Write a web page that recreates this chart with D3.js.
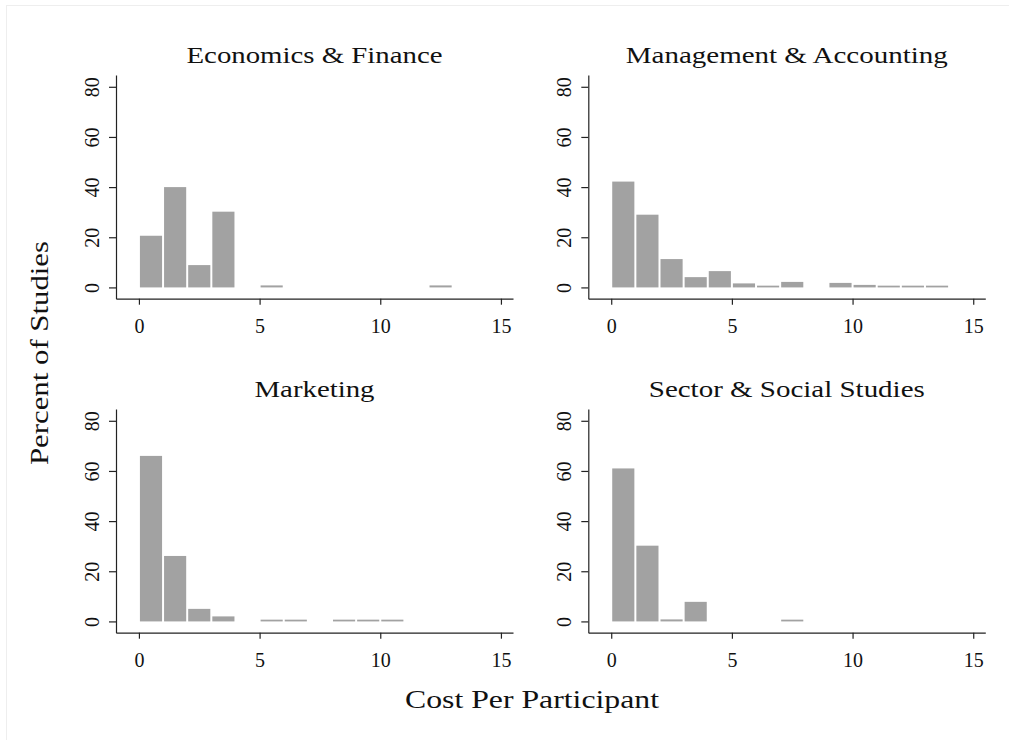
<!DOCTYPE html>
<html>
	<head>
		<meta charset="utf-8">
		<title></title>
		<style type="text/css">
			body { margin: 0; background: #fff; }
			svg text { font-family: "Liberation Serif", "Times New Roman", Tinos, serif; fill: #111; }
		</style>
		<script src="https://cdn.jsdelivr.net/npm/d3@7"></script>
	</head>
	<body>
		<svg height='740' width='1009'></svg>

		<script>
			// percent of studies per cost bin (bins of width 1, starting at 0)
			var bins = [0,1,2,3,4,5,6,7,8,9,10,11,12,13,14];
			var econ   = [20.6, 40, 8.9, 30.2, 0, 0.8, 0, 0, 0, 0, 0, 0, 0.8, 0, 0];
			var mgmt   = [42.2, 29, 11.3, 4.1, 6.5, 1.6, 0.7, 2.2, 0, 1.8, 1.0, 0.7, 0.7, 0.7, 0];
			var mkt    = [66, 26.1, 5.0, 2.0, 0, 0.7, 0.7, 0, 0.7, 0.7, 0.7, 0, 0, 0, 0];
			var sector = [61, 30.2, 0.8, 7.8, 0, 0, 0, 0.7, 0, 0, 0, 0, 0, 0, 0];

			var titles = ["Economics & Finance", "Management & Accounting", "Marketing", "Sector & Social Studies"];
			var titleWidths = [256, 322, 120, 276];
			var series = [econ, mgmt, mkt, sector];
			var xTicks = [0, 5, 10, 15];
			var yTicks = [0, 20, 40, 60, 80];

			var svg = d3.select("svg");

			// faint frame like the exported graph
			svg.append("rect")
				.attr("x", 6.5).attr("y", 5.5)
				.attr("width", 1010).attr("height", 740)
				.attr("fill", "none")
				.attr("stroke", "#eeeeee");

			var pw = 397, ph = 223.7;

			series.forEach(function(vals, i){
				var col = i % 2, row = Math.floor(i / 2);
				var left = 116 + col * 472.3;
				var top = 75 + row * 334;

				var x = d3.scaleLinear().domain([-0.95, 15.5]).range([left, left + pw]);
				var y = d3.scaleLinear().domain([-4.5, 84.7]).range([top + ph, top]);

				var g = svg.append("g");

				g.selectAll("rect")
					.data(bins.filter(function(d){ return vals[d] > 0; }))
					.enter()
					.append("rect")
					.attr("x", function(d){ return x(d) + 1; })
					.attr("width", function(d){ return x(d + 1) - x(d) - 2; })
					.attr("y", function(d){ return y(vals[d]); })
					.attr("height", function(d){ return y(0) - y(vals[d]); })
					.attr("fill", "#a2a2a2");

				var xa = g.append("g")
					.attr("transform", "translate(0," + (top + ph) + ")")
					.call(d3.axisBottom(x).tickValues(xTicks).tickSize(6).tickSizeOuter(0));
				xa.attr("font-family", null).attr("font-size", null);
				xa.selectAll("text")
					.attr("y", 34).attr("dy", 0)
					.style("font-size", "20px");

				var ya = g.append("g")
					.attr("transform", "translate(" + left + ",0)")
					.call(d3.axisLeft(y).tickValues(yTicks).tickSize(7).tickSizeOuter(0));
				ya.attr("font-family", null).attr("font-size", null);
				ya.selectAll("text")
					.attr("x", 0).attr("dy", 0)
					.attr("text-anchor", "middle")
					.attr("transform", "translate(-17,0) rotate(-90)")
					.style("font-size", "20px");

				g.selectAll(".domain, .tick line")
					.attr("stroke", "#222")
					.attr("stroke-width", 1.2);

				g.append("text")
					.attr("x", left + pw / 2)
					.attr("y", 63 + row * 334)
					.attr("text-anchor", "middle")
					.attr("textLength", titleWidths[i])
					.attr("lengthAdjust", "spacingAndGlyphs")
					.style("font-size", "24px")
					.text(titles[i]);
			});

			svg.append("text")
				.attr("x", 532).attr("y", 708)
				.attr("text-anchor", "middle")
				.attr("textLength", 254)
				.attr("lengthAdjust", "spacingAndGlyphs")
				.style("font-size", "26px")
				.text("Cost Per Participant");

			svg.append("text")
				.attr("transform", "translate(48,353) rotate(-90)")
				.attr("text-anchor", "middle")
				.attr("textLength", 224)
				.attr("lengthAdjust", "spacingAndGlyphs")
				.style("font-size", "26px")
				.text("Percent of Studies");
		</script>
	</body>
</html>
